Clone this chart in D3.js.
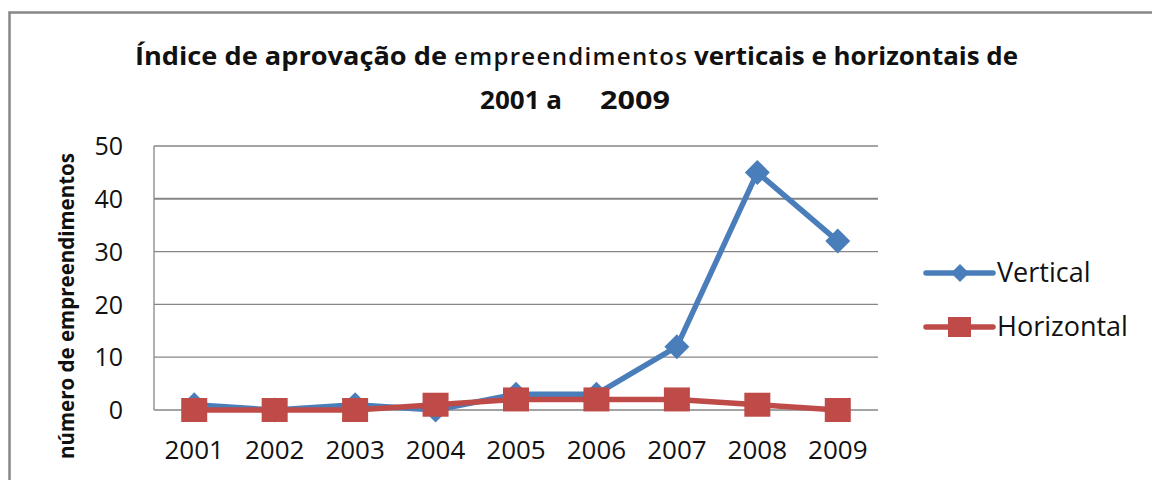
<!DOCTYPE html>
<html>
<head>
<meta charset="utf-8">
<script src="https://cdn.jsdelivr.net/npm/d3@7"></script>
<style>
  body { margin: 0; background: #fff; }
  text { font-family: "Open Sans", sans-serif; fill: #111; }
</style>
</head>
<body>
<div id="vis"></div>
<script>
var width = 1152;
var height = 480;
// data
var years = ["2001", "2002", "2003", "2004", "2005", "2006", "2007", "2008", "2009"];
var vertical = [1, 0, 1, 0, 3, 3, 12, 45, 32];
var horizontal = [0, 0, 0, 1, 2, 2, 2, 1, 0];
var yTicks = [0, 10, 20, 30, 40, 50];
var seriesNames = ["Vertical", "Horizontal"];
const COLORS = ["#4a7ebb", "#be4b48"];

var plot = { left: 154, right: 878, top: 146, bottom: 410 };

var svg = d3.select("#vis")
  .append("svg")
  .attr("width", width)
  .attr("height", height);

// outer chart border (only top and left are visible)
svg.append("rect")
  .attr("x", 9.5).attr("y", 12.5)
  .attr("width", 1200).attr("height", 600)
  .attr("fill", "none")
  .attr("stroke", "#878787")
  .attr("stroke-width", 2.5);

// scales
var xScale = d3.scaleBand().domain(years).range([plot.left, plot.right]);
var yScale = d3.scaleLinear().domain([0, 50]).range([plot.bottom, plot.top]);
function cx(d, i) { return xScale(years[i]) + xScale.bandwidth() / 2; }

// gridlines
svg.append("g")
  .selectAll("line")
  .data(yTicks)
  .enter()
  .append("line")
  .attr("x1", plot.left).attr("x2", plot.right)
  .attr("y1", function (d) { return yScale(d); })
  .attr("y2", function (d) { return yScale(d); })
  .attr("stroke", "#868686")
  .attr("stroke-width", function (d) { return d == 40 ? 2 : 1.3; });

// y axis line
svg.append("line")
  .attr("x1", plot.left).attr("x2", plot.left)
  .attr("y1", plot.top).attr("y2", plot.bottom)
  .attr("stroke", "#868686")
  .attr("stroke-width", 1.3);

// y tick labels
var yAxis = svg.append("g")
  .attr("transform", "translate(" + plot.left + ",0)")
  .call(d3.axisLeft(yScale).tickValues(yTicks).tickSize(0).tickPadding(31));
yAxis.select(".domain").remove();
yAxis.selectAll("text")
  .attr("font-family", "Open Sans")
  .attr("font-size", 25)
  .attr("fill", "#1a1a1a")
  .attr("dy", "0.35em");

// x tick labels
var xAxis = svg.append("g")
  .attr("transform", "translate(0," + plot.bottom + ")")
  .call(d3.axisBottom(xScale).tickSize(0).tickPadding(0));
xAxis.select(".domain").remove();
xAxis.selectAll("text")
  .attr("font-family", "Open Sans")
  .attr("font-size", 26)
  .attr("fill", "#1a1a1a")
  .attr("y", 49)
  .attr("dy", 0);

// y axis title
svg.append("text")
  .attr("transform", "translate(74,306) rotate(-90)")
  .attr("text-anchor", "middle")
  .attr("font-size", 21)
  .attr("font-weight", 700)
  .attr("textLength", 306)
  .attr("lengthAdjust", "spacingAndGlyphs")
  .text("número de empreendimentos");

// title
var title = svg.append("g");
title.append("text").attr("x", 135).attr("y", 65)
  .attr("font-size", 25).attr("font-weight", 700)
  .attr("textLength", 312).attr("lengthAdjust", "spacingAndGlyphs")
  .text("Índice de aprovação de");
title.append("text").attr("x", 454).attr("y", 65)
  .attr("font-size", 24).attr("font-weight", 600)
  .attr("textLength", 233).attr("lengthAdjust", "spacing")
  .text("empreendimentos");
title.append("text").attr("x", 694).attr("y", 65)
  .attr("font-size", 25).attr("font-weight", 700)
  .attr("textLength", 324).attr("lengthAdjust", "spacingAndGlyphs")
  .text("verticais e horizontais  de");
title.append("text").attr("x", 480).attr("y", 109)
  .attr("font-size", 25).attr("font-weight", 700)
  .attr("textLength", 82).attr("lengthAdjust", "spacingAndGlyphs")
  .text("2001 a");
title.append("text").attr("x", 600).attr("y", 109)
  .attr("font-size", 25).attr("font-weight", 700)
  .attr("textLength", 70).attr("lengthAdjust", "spacingAndGlyphs")
  .text("2009");

// series
var line = d3.line()
  .x(function (d, i) { return cx(d, i); })
  .y(function (d) { return yScale(d); });

function diamond(g, x, y, r, color) {
  g.append("path")
    .attr("d", "M" + x + "," + (y - r) + "L" + (x + r) + "," + y + "L" + x + "," + (y + r) + "L" + (x - r) + "," + y + "Z")
    .attr("fill", color);
}

var s1 = svg.append("g");
s1.append("path")
  .datum(vertical)
  .attr("d", line)
  .attr("fill", "none")
  .attr("stroke", COLORS[0])
  .attr("stroke-width", 5.5)
  .attr("stroke-linejoin", "round");
vertical.forEach(function (d, i) {
  diamond(s1, cx(d, i), yScale(d), 12.5, COLORS[0]);
});

var s2 = svg.append("g");
s2.append("path")
  .datum(horizontal)
  .attr("d", line)
  .attr("fill", "none")
  .attr("stroke", COLORS[1])
  .attr("stroke-width", 5.5)
  .attr("stroke-linejoin", "round");
s2.selectAll("rect")
  .data(horizontal)
  .enter()
  .append("rect")
  .attr("x", function (d, i) { return cx(d, i) - 13; })
  .attr("y", function (d) { return yScale(d) - 12; })
  .attr("width", 26)
  .attr("height", 24)
  .attr("fill", COLORS[1]);

// legend
var legend = svg.append("g");
var legendY = [273, 327];
seriesNames.forEach(function (name, i) {
  legend.append("line")
    .attr("x1", 926).attr("x2", 993)
    .attr("y1", legendY[i]).attr("y2", legendY[i])
    .attr("stroke", COLORS[i])
    .attr("stroke-width", 5.5)
    .attr("stroke-linecap", "round");
  if (i == 0) {
    diamond(legend, 960, legendY[i], 9, COLORS[0]);
  } else {
    legend.append("rect")
      .attr("x", 948).attr("y", legendY[i] - 10)
      .attr("width", 23).attr("height", 20)
      .attr("fill", COLORS[1]);
  }
  legend.append("text")
    .attr("x", 997)
    .attr("y", legendY[i] + 9)
    .attr("font-size", 27)
    .text(name);
});
</script>
</body>
</html>
